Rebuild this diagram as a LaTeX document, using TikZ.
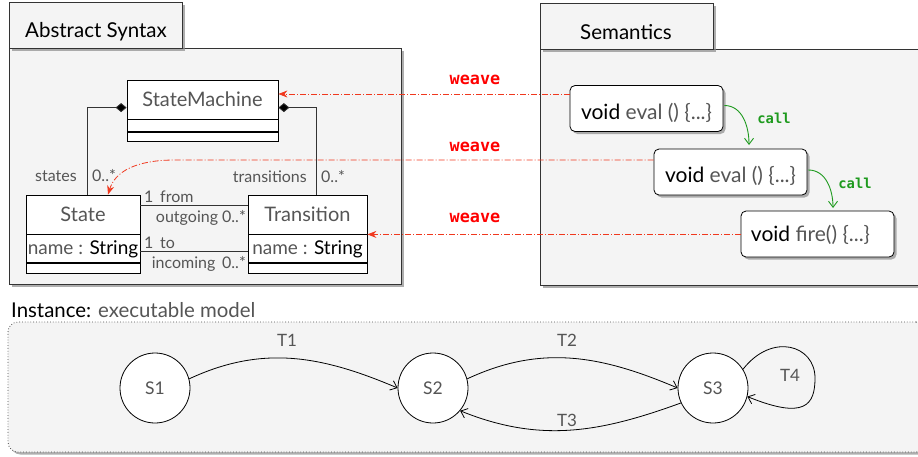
\documentclass[tikz,border=0pt]{standalone}
\usepackage{fontspec}
\setmainfont{Lato}
\setmonofont{DejaVu Sans Mono}
\usetikzlibrary{arrows.meta,calc,shadows}
\definecolor{pkgfill}{HTML}{F4F4F4}
\definecolor{edge}{HTML}{333333}
\definecolor{txtgray}{HTML}{555555}
\definecolor{weavered}{HTML}{F0381E}
\definecolor{callgreen}{HTML}{1E9A1E}
\newcommand\gtx[1]{\textcolor{txtgray}{#1}}
\begin{document}
\begin{tikzpicture}[x=1pt,y=1pt,
  shad/.style={drop shadow={shadow xshift=2.5pt,shadow yshift=-2.5pt,fill=black!45,opacity=0.7}},
  pkg/.style={draw=edge, fill=pkgfill, line width=0.9pt, shad, inner sep=0pt},
  pkgtitle/.style={font=\fontsize{20.5}{24}\selectfont, text=black},
  clsname/.style={draw=black, fill=white, line width=0.8pt, inner sep=0pt, font=\fontsize{20}{24}\selectfont, text=txtgray},
  compart/.style={draw=black, fill=white, line width=0.8pt, inner sep=0pt},
  lbl/.style={font=\fontsize{16}{18}\selectfont, text=txtgray, inner sep=0pt},
  sembox/.style={draw=black, fill=white, line width=0.8pt, rounded corners=5pt, shad, inner sep=0pt,
     minimum width=153pt, minimum height=46pt, font=\fontsize{21}{24}\selectfont},
  weave/.style={draw=weavered, line width=0.8pt, dash pattern=on 6pt off 2pt on 1pt off 2pt, -{Stealth[length=9pt,width=7pt]}},
  weavelbl/.style={font=\ttfamily\bfseries\fontsize{16.8}{19}\selectfont, text=red},
  callarr/.style={draw=callgreen, line width=0.9pt, -{Straight Barb[length=6pt,width=9pt]}},
  calllbl/.style={font=\ttfamily\bfseries\fontsize{13.8}{16}\selectfont, text=callgreen},
  state/.style={circle, draw=black, fill=white, line width=0.8pt, minimum size=70pt, inner sep=0pt, font=\fontsize{17.5}{20}\selectfont, text=txtgray},
  trans/.style={draw=black, line width=0.8pt, -{Straight Barb[length=6pt,width=10pt]}},
  tlbl/.style={font=\fontsize{17}{20}\selectfont, text=txtgray, inner sep=0pt},
  assoc/.style={draw=edge, line width=0.8pt}
]
\useasboundingbox (0,0) rectangle (918,-456);

% ---------- Abstract Syntax package ----------
\node[pkg, minimum width=392pt, minimum height=236pt] (asbody) at (205,-166) {};
\node[pkg, minimum width=173pt, minimum height=46pt] (astab) at (95.5,-25) {};
\node[pkgtitle] (astitle) at (96,-32) {Abstract Syntax};

% ---------- Semantics package ----------
\node[pkg, minimum width=380pt, minimum height=236pt] (sembody) at (730,-167) {};
\node[pkg, minimum width=173pt, minimum height=46pt] (semtab) at (626.5,-26) {};
\node[pkgtitle] (semtitle) at (626,-32) {Semantics};

% ---------- classes ----------
\node[clsname, minimum width=151pt, minimum height=39pt] (sm) at (202.5,-99.5) {StateMachine};
\node[compart, minimum width=151pt, minimum height=12pt, anchor=north] (sm1) at (sm.south) {};
\node[compart, minimum width=151pt, minimum height=9pt, anchor=north] (sm2) at (sm1.south) {};

\node[clsname, minimum width=114pt, minimum height=39pt] (st) at (83,-214.5) {State};
\node[compart, minimum width=114pt, minimum height=28pt, anchor=north, font=\fontsize{19}{22}\selectfont] (st1) at (st.south) {\gtx{name :} String};
\node[compart, minimum width=114pt, minimum height=10pt, anchor=north] (st2) at (st1.south) {};

\node[clsname, minimum width=119pt, minimum height=39pt] (tr) at (307.5,-214.5) {Transition};
\node[compart, minimum width=119pt, minimum height=28pt, anchor=north, font=\fontsize{19}{22}\selectfont] (tr1) at (tr.south) {\gtx{name :} String};
\node[compart, minimum width=119pt, minimum height=10pt, anchor=north] (tr2) at (tr1.south) {};

% composition connectors
\coordinate (smL) at ($(sm.north west)+(0,-28)$);
\coordinate (smR) at ($(sm.north east)+(0,-28)$);
\coordinate (stTop) at ($(st.north)+(4,0)$);
\coordinate (trTop) at ($(tr.north)+(8.5,0)$);
\draw[assoc, {Diamond[length=11pt,width=9pt,fill=black]}-] (smL) -| (stTop);
\draw[assoc, {Diamond[length=11pt,width=9pt,fill=black]}-] (smR) -| (trTop);
\node[lbl, anchor=east] (lstates) at (77,-176) {states};
\node[lbl, anchor=west] (lst0) at (92,-176) {0..*};
\node[lbl, anchor=east] (ltrans) at (307,-177) {transitions};
\node[lbl, anchor=west] (ltr0) at (321,-177) {0..*};

% associations
\draw[assoc] ($(st.north east)+(0,-11)$) -- ($(tr.north west)+(0,-11)$);
\draw[assoc] ($(st1.north east)+(0,-17)$) -- ($(tr1.north west)+(0,-17)$);
\node[lbl, anchor=west] (lfrom) at (144,-197) {1\, from};
\node[lbl, anchor=east] (lout) at (246,-218) {outgoing 0..*};
\node[lbl, anchor=west] (lto) at (144,-243) {1\, to};
\node[lbl, anchor=east] (linc) at (246,-264) {incoming\, 0..*};

% ---------- semantics boxes ----------
\node[sembox, text height=22pt, text depth=0pt] (sb1) at (646.5,-108.5) {void \gtx{eval () \{...\}}};
\node[sembox, text height=21pt, text depth=0pt] (sb2) at (730.5,-172) {void \gtx{eval () \{...\}}};
\node[sembox, text height=17pt, text depth=2pt] (sb3) at (817.5,-234) {void \gtx{fire() \{...\}}\hspace*{14pt}};

% call arrows
\coordinate (c1s) at ($(sb1.east)+(1,3)$);
\coordinate (c1e) at (749,-145);
\draw[callarr] (c1s) to[out=0,in=90] (c1e);
\node[calllbl] (call1) at (774,-118) {call};
\coordinate (c2s) at ($(sb2.east)+(1,2)$);
\coordinate (c2e) at (833,-208);
\draw[callarr] (c2s) to[out=0,in=90] (c2e);
\node[calllbl] (call2) at (855,-183) {call};

% weave arrows
\coordinate (w1s) at (sb1.west |- 0,-94);
\draw[weave] (w1s) -- (sm.east |- w1s);
\node[weavelbl] (wl1) at (475,-80) {weave};
\coordinate (w2s) at (sb2.west |- 0,-160);
\coordinate (w2m) at (175,-160);
\coordinate (w2e) at ($(st.north)+(25,0)$);
\draw[weave] (w2s) -- (w2m) .. controls (135,-160) and (115,-172) .. (w2e);
\node[weavelbl] (wl2) at (475,-147) {weave};
\draw[weave] (sb3.west |- tr.south east) -- (tr.south east);
\node[weavelbl] (wl3) at (475,-218) {weave};

% ---------- Instance ----------
\node[anchor=base west, inner sep=0pt, font=\fontsize{20.4}{24}\selectfont] (insttitle) at (11,-317) {Instance: \gtx{executable model}};
\node[draw=black!70, fill=pkgfill, line width=0.8pt, dotted, rounded corners=10pt, shad,
      minimum width=918pt, minimum height=130pt, inner sep=0pt] (instbox) at (467,-387) {};

\node[state] (s1) at (155,-388) {S1};
\node[state] (s2) at (433,-388) {S2};
\node[state] (s3) at (713,-388) {S3};

\draw[trans] (s1.15) to[out=25,in=157] (s2.180);
\node[tlbl] (t1) at (287,-340) {T1};
\draw[trans] (s2.15) to[out=25,in=157] (s3.180);
\node[tlbl] (t2) at (567,-340) {T2};
\draw[trans] (s3.205) to[out=200,in=-22] (s2.-40);
\node[tlbl] (t3) at (567,-420) {T3};
\draw[trans] (s3.32) .. controls (772,-332) and (815,-345) .. (815,-378)
   .. controls (815,-405) and (805,-420) .. (s3.-14);
\node[tlbl] (t4) at (790,-375) {T4};
\end{tikzpicture}
\end{document}
